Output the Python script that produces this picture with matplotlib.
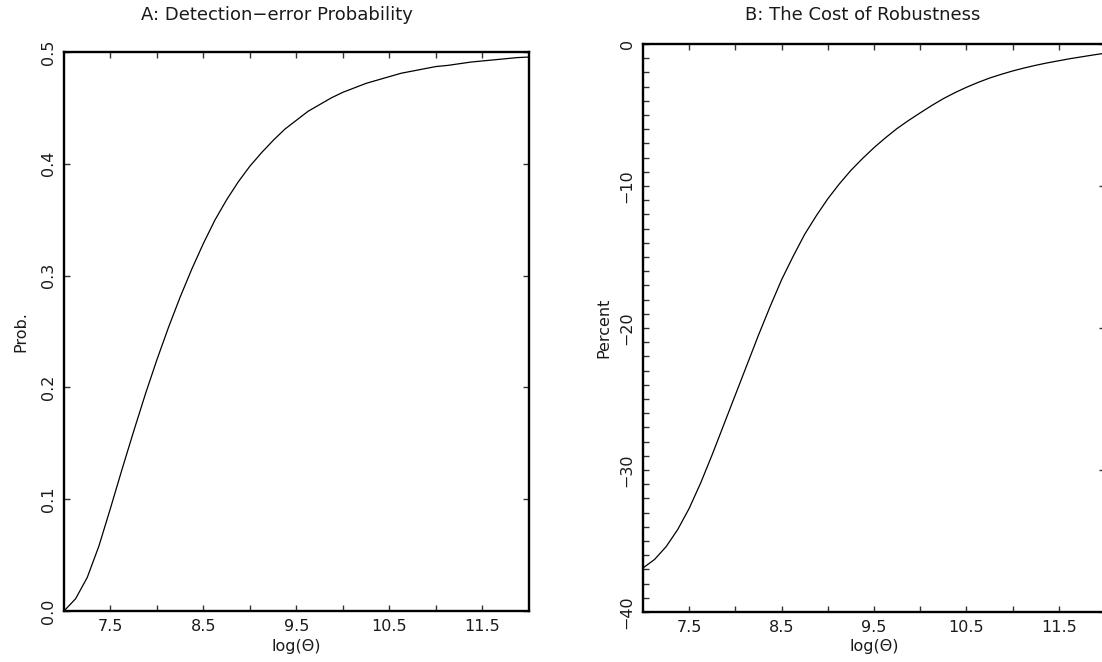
import matplotlib
matplotlib.use("Agg")
import matplotlib.pyplot as plt
from matplotlib.ticker import FixedLocator, FixedFormatter

# ---- data ----
log_theta = [7.0, 7.125, 7.25, 7.375, 7.5, 7.625, 7.75, 7.875,
             8.0, 8.125, 8.25, 8.375, 8.5, 8.625, 8.75, 8.875,
             9.0, 9.125, 9.25, 9.375, 9.5, 9.625, 9.75, 9.875,
             10.0, 10.125, 10.25, 10.375, 10.5, 10.625, 10.75, 10.875,
             11.0, 11.125, 11.25, 11.375, 11.5, 11.625, 11.75, 11.875, 12.0]
det_prob = [0.000, 0.011, 0.030, 0.058, 0.092, 0.127, 0.161, 0.194,
            0.225, 0.254, 0.281, 0.306, 0.329, 0.350, 0.368, 0.384,
            0.398, 0.410, 0.421, 0.431, 0.439, 0.447, 0.453, 0.459,
            0.464, 0.468, 0.472, 0.475, 0.478, 0.481, 0.483, 0.485,
            0.487, 0.488, 0.4895, 0.491, 0.492, 0.493, 0.494, 0.495, 0.4955]
cost_pct = [-36.9, -36.3, -35.4, -34.2, -32.7, -30.9, -28.9, -26.8,
            -24.7, -22.6, -20.5, -18.5, -16.6, -14.95, -13.4, -12.1,
            -10.9, -9.85, -8.9, -8.07, -7.3, -6.6, -5.95, -5.38,
            -4.85, -4.33, -3.85, -3.43, -3.05, -2.71, -2.4, -2.14,
            -1.9, -1.69, -1.5, -1.33, -1.18, -1.03, -0.9, -0.77, -0.65]

x_major = [7.5, 8.5, 9.5, 10.5, 11.5]
x_major_labels = ["7.5", "8.5", "9.5", "10.5", "11.5"]
x_minor = [8.0, 9.0, 10.0, 11.0]

yA_ticks = [0.0, 0.1, 0.2, 0.3, 0.4, 0.5]
yA_labels = ["0.0", "0.1", "0.2", "0.3", "0.4", "0.5"]
yB_ticks = [-40, -30, -20, -10, 0]
yB_labels = ["\u221240", "\u221230", "\u221220", "\u221210", "0"]
yB_minor = [v for v in range(-39, 0) if v % 10 != 0]

title_A = "A: Detection\u2212error Probability"
title_B = "B: The Cost of Robustness"
xlabel = "log(\u0398)"

W, H = 1102, 662
fig = plt.figure(figsize=(W / 100, H / 100), dpi=100)
plt.rcParams['font.family'] = ['DejaVu Sans']
txt_color = '#1a1a1a'

def px_axes(x0, y0, x1, y1):
    return fig.add_axes([x0 / W, 1 - y1 / H, (x1 - x0) / W, (y1 - y0) / H])

axA = px_axes(64, 52, 529, 611)
axB = px_axes(643, 44, 1105, 612)

for ax in (axA, axB):
    for s in ax.spines.values():
        s.set_linewidth(1.7)
        s.set_color('black')
    ax.set_xlim(7, 12)
    ax.xaxis.set_major_locator(FixedLocator(x_major))
    ax.xaxis.set_major_formatter(FixedFormatter(x_major_labels))
    ax.xaxis.set_minor_locator(FixedLocator(x_minor))
    ax.tick_params(axis='x', which='both', direction='in', top=True, bottom=True,
                   length=4, width=1.0, color='#333333', pad=6,
                   labelsize=11.5, labelcolor=txt_color)
    ax.tick_params(axis='y', which='both', direction='in', length=4, width=1.0,
                   color='#333333', pad=6, labelsize=11.5, labelcolor=txt_color)
    ax.set_xlabel(xlabel, fontsize=11.5, color=txt_color, labelpad=3)

# Panel A
axA.plot(log_theta, det_prob, color='black', lw=0.9)
axA.set_ylim(0, 0.5)
axA.yaxis.set_major_locator(FixedLocator(yA_ticks))
axA.yaxis.set_major_formatter(FixedFormatter(yA_labels))
axA.tick_params(axis='y', left=True, right=True)
for lab in axA.get_yticklabels():
    lab.set_rotation(90)
    lab.set_va('center')
axA.set_ylabel("Prob.", fontsize=11.5, color=txt_color, labelpad=9)

# Panel B
axB.plot(log_theta, cost_pct, color='black', lw=0.9)
axB.set_ylim(-40, 0)
axB.yaxis.set_major_locator(FixedLocator(yB_ticks))
axB.yaxis.set_major_formatter(FixedFormatter(yB_labels))
axB.yaxis.set_minor_locator(FixedLocator(yB_minor))
axB.tick_params(axis='y', which='major', left=True, right=True)
axB.tick_params(axis='y', which='minor', left=True, right=False)
for lab in axB.get_yticklabels():
    lab.set_rotation(90)
    lab.set_va('center')
axB.set_ylabel("Percent", fontsize=11.5, color=txt_color, labelpad=6)

# Titles (both on the same line, as in the reference)
fig.text(277 / W, 1 - 15 / H, title_A, ha='center', va='center', fontsize=13, color=txt_color)
fig.text(863 / W, 1 - 15 / H, title_B, ha='center', va='center', fontsize=13, color=txt_color)

fig.savefig("out.png", dpi=100)
